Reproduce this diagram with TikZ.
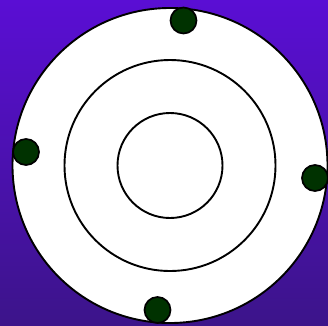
\documentclass[tikz,border=0pt]{standalone}
\begin{document}
\begin{tikzpicture}[x=1pt,y=-1pt,
  ring/.style={draw=black,line width=1.9pt},
  dot/.style={draw=black,line width=1.7pt,fill=dotgreen}]
\definecolor{bgtop}{RGB}{90,14,212}
\definecolor{bgbot}{RGB}{60,20,138}
\definecolor{dotgreen}{RGB}{0,50,0}
\useasboundingbox (0,0) rectangle (328,325);
\shade[top color=bgtop,bottom color=bgbot] (0,0) rectangle (328,325);
\begin{scope}
\clip (0,0) rectangle (328,325);
\coordinate (c) at (170,165.5);
\draw[ring,fill=white] (c) circle[radius=157.5];
\draw[ring] (c) circle[radius=105.5];
\draw[ring] (c) circle[radius=52.5];
\node[dot,circle,minimum size=26pt,inner sep=0pt] (d1) at (183.5,20.5) {};
\node[dot,circle,minimum size=26pt,inner sep=0pt] (d2) at (26,152) {};
\node[dot,circle,minimum size=26pt,inner sep=0pt] (d3) at (315,178) {};
\node[dot,circle,minimum size=26pt,inner sep=0pt] (d4) at (157.5,310) {};
\end{scope}
\end{tikzpicture}
\end{document}
